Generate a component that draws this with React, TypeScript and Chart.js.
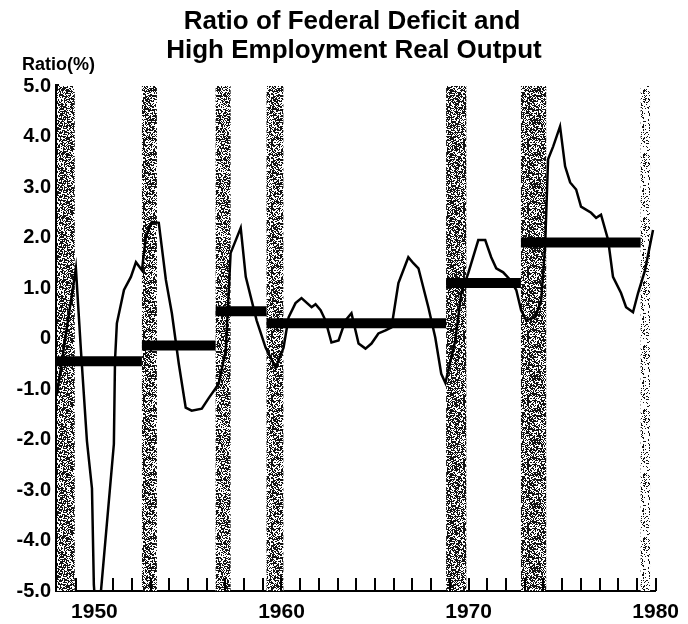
import React, { useEffect, useRef } from "react";
import { Chart, registerables } from "chart.js";

Chart.register(...registerables);

// ---- Data ----
const titleLines = ["Ratio of Federal Deficit and", "High Employment Real Output"];
const yAxisTitle = "Ratio(%)";
const xLabelYears = [1950, 1960, 1970, 1980];
const yTickValues = [-5, -4, -3, -2, -1, 0, 1, 2, 3, 4, 5];
const minorTickYears = [1949, 1950, 1951, 1952, 1953, 1954, 1955, 1956, 1957, 1958, 1959, 1960, 1961, 1962, 1963, 1964, 1965, 1966, 1967, 1968, 1969, 1970, 1971, 1972, 1973, 1974, 1975, 1976, 1977, 1978, 1979, 1980];

// Recession bands (start year, end year)
const bandStart = [1947.9, 1952.54, 1956.48, 1959.2, 1968.8, 1972.8, 1979.2];
const bandEnd = [1948.95, 1953.34, 1957.28, 1960.1, 1969.88, 1974.15, 1979.7];
const bandDensity = [0.55, 0.55, 0.55, 0.55, 0.6, 0.6, 0.2];

// Ratio of federal deficit to high-employment real output (%)
const ratioYears = [1948.0, 1948.37, 1948.53, 1949.01, 1949.28, 1949.6, 1949.87, 1949.97, 1950.15, 1950.35, 1951.04, 1951.1, 1951.2, 1951.58, 1951.95, 1952.22, 1952.54, 1952.75, 1953.07, 1953.44, 1953.82, 1954.14, 1954.51, 1954.88, 1955.2, 1955.74, 1956.11, 1956.64, 1957.02, 1957.12, 1957.28, 1957.82, 1958.09, 1958.67, 1959.15, 1959.69, 1960.11, 1960.38, 1960.75, 1961.07, 1961.61, 1961.82, 1962.09, 1962.35, 1962.67, 1963.05, 1963.42, 1963.74, 1964.12, 1964.49, 1964.81, 1965.18, 1965.56, 1965.88, 1966.25, 1966.78, 1967.05, 1967.32, 1967.85, 1968.22, 1968.54, 1968.76, 1969.29, 1969.61, 1969.98, 1970.52, 1970.89, 1971.21, 1971.48, 1971.85, 1972.23, 1972.55, 1972.81, 1973.08, 1973.56, 1973.88, 1974.09, 1974.25, 1974.52, 1974.89, 1975.16, 1975.43, 1975.75, 1976.01, 1976.55, 1976.82, 1977.08, 1977.46, 1977.72, 1978.15, 1978.42, 1978.79, 1979.06, 1979.43, 1979.86];
const ratioValues = [-1.1, -0.18, 0.22, 1.39, -0.24, -2.03, -2.97, -4.88, -5.8, -5.0, -2.09, -0.44, 0.3, 0.96, 1.22, 1.51, 1.35, 2.01, 2.31, 2.29, 1.16, 0.5, -0.5, -1.37, -1.43, -1.39, -1.18, -0.9, -0.24, 0.5, 1.69, 2.19, 1.22, 0.36, -0.18, -0.58, -0.18, 0.42, 0.7, 0.8, 0.62, 0.68, 0.56, 0.36, -0.08, -0.04, 0.36, 0.5, -0.1, -0.2, -0.1, 0.1, 0.16, 0.22, 1.1, 1.61, 1.49, 1.39, 0.62, 0.02, -0.7, -0.88, -0.04, 0.9, 1.29, 1.95, 1.95, 1.61, 1.39, 1.31, 1.16, 0.96, 0.56, 0.36, 0.42, 0.76, 1.81, 3.55, 3.8, 4.2, 3.41, 3.09, 2.95, 2.61, 2.49, 2.39, 2.45, 1.95, 1.22, 0.9, 0.62, 0.52, 0.9, 1.35, 2.15];

// Period averages (thick horizontal bars)
const avgStart = [1948.0, 1952.54, 1956.48, 1959.2, 1968.8, 1972.8];
const avgEnd = [1952.54, 1956.48, 1959.2, 1968.8, 1972.8, 1979.2];
const avgValue = [-0.45, -0.14, 0.54, 0.3, 1.1, 1.9];

const FONT = "'Liberation Sans', Arial, Helvetica, sans-serif";

function makePattern(density: number): CanvasPattern | string {
  const size = 64;
  const c = document.createElement("canvas");
  c.width = size;
  c.height = size;
  const g = c.getContext("2d");
  if (!g) return "rgba(0,0,0,0.5)";
  const img = g.createImageData(size, size);
  for (let y = 0; y < size; y++) {
    for (let x = 0; x < size; x++) {
      let h = Math.imul(x + 1, 374761393) ^ Math.imul(y + 7, 668265263);
      h = Math.imul(h ^ (h >>> 13), 1274126177);
      h = h ^ (h >>> 16);
      const v = ((h >>> 0) % 1000) / 1000;
      const i = (y * size + x) * 4;
      const dark = v < density;
      img.data[i] = dark ? 20 : 255;
      img.data[i + 1] = dark ? 20 : 255;
      img.data[i + 2] = dark ? 20 : 255;
      img.data[i + 3] = 255;
    }
  }
  g.putImageData(img, 0, 0);
  const p = g.createPattern(c, "repeat");
  return p || "rgba(0,0,0,0.5)";
}

export default function App() {
  const ref = useRef<HTMLCanvasElement | null>(null);

  useEffect(() => {
    document.body.style.margin = "0";
    const canvas = ref.current;
    if (!canvas) return;

    const patterns = bandDensity.map((d) => makePattern(d));

    const bandsPlugin = {
      id: "bands",
      beforeDatasetsDraw(chart: any) {
        const { ctx, chartArea, scales } = chart;
        const xs = scales.x;
        ctx.save();
        for (let i = 0; i < bandStart.length; i++) {
          const x1 = Math.max(xs.getPixelForValue(bandStart[i]), chartArea.left);
          const x2 = xs.getPixelForValue(bandEnd[i]);
          ctx.fillStyle = patterns[i];
          ctx.fillRect(x1, chartArea.top, x2 - x1, chartArea.bottom - chartArea.top);
        }
        // year tick marks pointing up from the x axis
        ctx.strokeStyle = "#000";
        ctx.lineWidth = 2;
        ctx.beginPath();
        for (const yr of minorTickYears) {
          const x = Math.round(xs.getPixelForValue(yr));
          ctx.moveTo(x, chartArea.bottom);
          ctx.lineTo(x, chartArea.bottom - 13);
        }
        ctx.stroke();
        ctx.restore();
      },
    };

    const textPlugin = {
      id: "texts",
      afterDraw(chart: any) {
        const { ctx } = chart;
        ctx.save();
        ctx.fillStyle = "#000";
        ctx.textBaseline = "middle";
        ctx.textAlign = "center";
        ctx.font = `bold 26px ${FONT}`;
        ctx.fillText(titleLines[0], 352, 22);
        ctx.fillText(titleLines[1], 354, 51);
        ctx.textAlign = "left";
        ctx.font = `bold 18px ${FONT}`;
        ctx.fillText(yAxisTitle, 22, 65);
        ctx.restore();
      },
    };

    const datasets: any[] = [
      {
        label: "ratio",
        data: ratioYears.map((x, i) => ({ x, y: ratioValues[i] })),
        borderColor: "#000",
        borderWidth: 2.5,
        pointRadius: 0,
        tension: 0,
        fill: false,
      },
    ];
    for (let i = 0; i < avgStart.length; i++) {
      datasets.push({
        label: "avg" + i,
        data: [
          { x: avgStart[i], y: avgValue[i] },
          { x: avgEnd[i], y: avgValue[i] },
        ],
        borderColor: "#000",
        borderWidth: 10,
        borderCapStyle: "butt",
        pointRadius: 0,
        fill: false,
      });
    }

    const chart = new Chart(canvas, {
      type: "line",
      data: { datasets },
      plugins: [bandsPlugin, textPlugin],
      options: {
        responsive: false,
        animation: false,
        layout: { padding: { top: 86, right: 30, left: 0, bottom: 0 } },
        plugins: {
          legend: { display: false },
          tooltip: { enabled: false },
          title: { display: false },
        },
        scales: {
          x: {
            type: "linear",
            min: 1948,
            max: 1980,
            afterFit: (s: any) => {
              s.height = 33;
            },
            afterBuildTicks: (s: any) => {
              s.ticks = xLabelYears.map((v) => ({ value: v }));
            },
            grid: { display: false, drawTicks: false },
            border: { display: true, color: "#000", width: 2 },
            ticks: {
              color: "#000",
              padding: 9,
              maxRotation: 0,
              autoSkip: false,
              font: { family: FONT, size: 21, weight: "bold" },
              callback: (v: any) => String(v),
            },
          },
          y: {
            type: "linear",
            min: -5,
            max: 5,
            afterFit: (s: any) => {
              s.width = 57;
            },
            afterBuildTicks: (s: any) => {
              s.ticks = yTickValues.map((v) => ({ value: v }));
            },
            grid: { display: false, drawTicks: false },
            border: { display: true, color: "#000", width: 4 },
            ticks: {
              color: "#000",
              padding: 6,
              font: { family: FONT, size: 20, weight: "bold" },
              callback: (v: any) => (v === 0 ? "0" : Number(v).toFixed(1)),
            },
          },
        },
      },
    });

    return () => {
      chart.destroy();
    };
  }, []);

  return (
    <div style={{ width: 688, height: 624 }}>
      <canvas ref={ref} width={688} height={624} style={{ display: "block" }} />
    </div>
  );
}
